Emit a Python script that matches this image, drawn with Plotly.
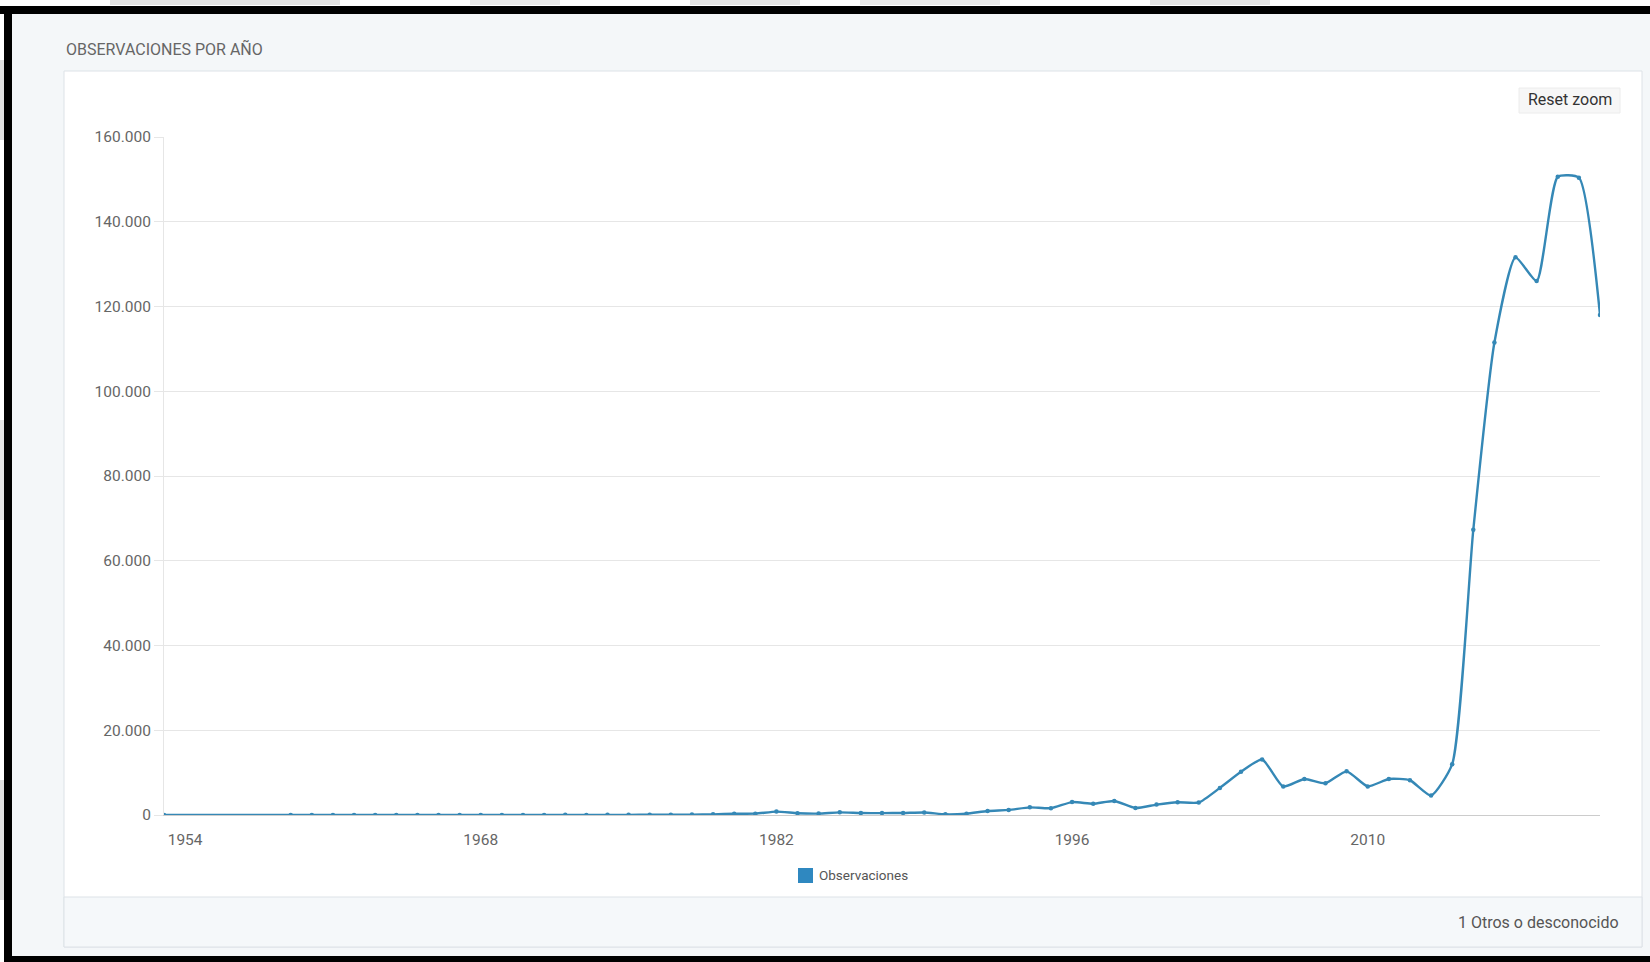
import plotly.graph_objects as go

# ---------------- data ----------------
years = [1953, 1959, 1960, 1961, 1962, 1963, 1964, 1965, 1966, 1967, 1968,
         1969, 1970, 1971, 1972, 1973, 1974, 1975, 1976, 1977, 1978, 1979,
         1980, 1981, 1982, 1983, 1984, 1985, 1986, 1987, 1988, 1989, 1990,
         1991, 1992, 1993, 1994, 1995, 1996, 1997, 1998, 1999, 2000, 2001,
         2002, 2003, 2004, 2005, 2006, 2007, 2008, 2009, 2010, 2011, 2012,
         2013, 2014, 2015, 2016, 2017, 2018, 2019, 2020, 2021]
observaciones = [3, 5, 4, 6, 8, 7, 10, 12, 15, 14, 18,
                 20, 25, 22, 30, 28, 35, 40, 45, 60, 90, 150,
                 300, 320, 800, 420, 330, 620, 460, 450, 480, 600, 160,
                 320, 950, 1200, 1800, 1600, 3050, 2650, 3300, 1650, 2450, 3000,
                 2950, 6400, 10200, 13100, 6700, 8500, 7500, 10300, 6750, 8500, 8200,
                 4600, 12000, 67300, 111500, 131600, 126000, 150600, 150400, 118000]
x_ticks = [1954, 1968, 1982, 1996, 2010]
y_ticks = [0, 20000, 40000, 60000, 80000, 100000, 120000, 140000, 160000]

TITLE = "OBSERVACIONES POR AÑO"
SERIES = "Observaciones"
FOOTER = "1 Otros o desconocido"
RESET = "Reset zoom"

# ---------------- geometry (pixels) ----------------
W, H = 1650, 962
L, R, T, B = 164, 1600, 137, 815
PW, PH = R - L, B - T


def px(x):
    return (x - L) / PW


def py(y):
    return (B - y) / PH


LINE_COLOR = "#3588b6"
FONT = "Roboto, 'Open Sans', sans-serif"

fig = go.Figure()
fig.add_trace(go.Scatter(
    x=years, y=observaciones, mode="lines+markers", name=SERIES,
    line=dict(color=LINE_COLOR, width=2.4, shape="spline", smoothing=0.55),
    marker=dict(color=LINE_COLOR, size=4.5),
    showlegend=False, hoverinfo="x+y",
))

shapes = []


def rect(x0, y0, x1, y1, fill, line=None, lw=0, layer="below"):
    shapes.append(dict(type="rect", xref="paper", yref="paper",
                       x0=px(x0), x1=px(x1), y0=py(y1), y1=py(y0),
                       fillcolor=fill, line=dict(color=line or fill, width=lw),
                       layer=layer))


# outer white strip & faint grey fragments outside the black frame
rect(0, 0, W, 6, "#ffffff")
rect(0, 0, 5, H, "#ffffff")
rect(110, 0, 340, 5, "#e2e2e2")
rect(470, 0, 560, 5, "#e8e8e8")
rect(690, 0, 800, 5, "#e4e4e4")
rect(860, 0, 1000, 5, "#e8e8e8")
rect(1150, 0, 1270, 5, "#e4e4e4")
rect(0, 60, 4, 140, "#e2e2e2")
rect(0, 420, 4, 520, "#e4e4e4")
rect(0, 780, 4, 900, "#e2e2e2")
# black frame (top, left, bottom)
rect(0, 6, W, 14, "#000000")
rect(4, 6, 12, H, "#000000")
rect(4, 956, W, H, "#000000")
# white panel + footer strip
rect(64, 71, 1642, 947, "#ffffff", "#dde2e7", 1)
rect(64, 897, 1642, 947, "#f5f8fa", "#dde2e7", 1)
# reset zoom button
rect(1519, 88, 1620, 113, "#f7f7f7", "#ececec", 1)
# legend square
rect(798, 868, 813, 883, "#2f88c0")

annotations = [
    dict(text=TITLE, x=px(64), y=py(49), xref="paper", yref="paper",
         xanchor="left", yanchor="middle", showarrow=False,
         font=dict(family=FONT, size=16, color="#666666")),
    dict(text=RESET, x=px(1570), y=py(100), xref="paper", yref="paper",
         xanchor="center", yanchor="middle", showarrow=False,
         font=dict(family=FONT, size=16, color="#333333")),
    dict(text=SERIES, x=px(817), y=py(875), xref="paper", yref="paper",
         xanchor="left", yanchor="middle", showarrow=False,
         font=dict(family=FONT, size=13.5, color="#555555")),
    dict(text=FOOTER, x=px(1621), y=py(922), xref="paper", yref="paper",
         xanchor="right", yanchor="middle", showarrow=False,
         font=dict(family=FONT, size=16, color="#555555")),
]

fig.update_layout(
    width=W, height=H, autosize=False,
    margin=dict(l=L, r=W - R, t=T, b=H - B, pad=0),
    paper_bgcolor="#f4f7f9", plot_bgcolor="rgba(0,0,0,0)",
    separators=",.",
    font=dict(family=FONT, size=15, color="#666666"),
    shapes=shapes, annotations=annotations,
    showlegend=False,
    xaxis=dict(range=[1953, 2021], tickvals=x_ticks, ticktext=[str(v) for v in x_ticks],
               showgrid=False, zeroline=False, showline=True, linecolor="#cccccc",
               linewidth=1, ticks="", ticklabelstandoff=10,
               tickfont=dict(family=FONT, size=15.5, color="#666666")),
    yaxis=dict(range=[0, 160000], tickvals=y_ticks, tickformat=",d",
               showgrid=True, gridcolor="#e6e6e6", gridwidth=1, zeroline=False,
               showline=True, linecolor="#e6e6e6", ticks="outside", ticklen=9,
               tickcolor="#e6e6e6", ticklabelstandoff=0,
               tickfont=dict(family=FONT, size=15.5, color="#666666")),
)

fig.write_html("out.html",
               config={"displayModeBar": False},
               post_script="document.body.style.margin='0';document.body.style.overflow='hidden';")
